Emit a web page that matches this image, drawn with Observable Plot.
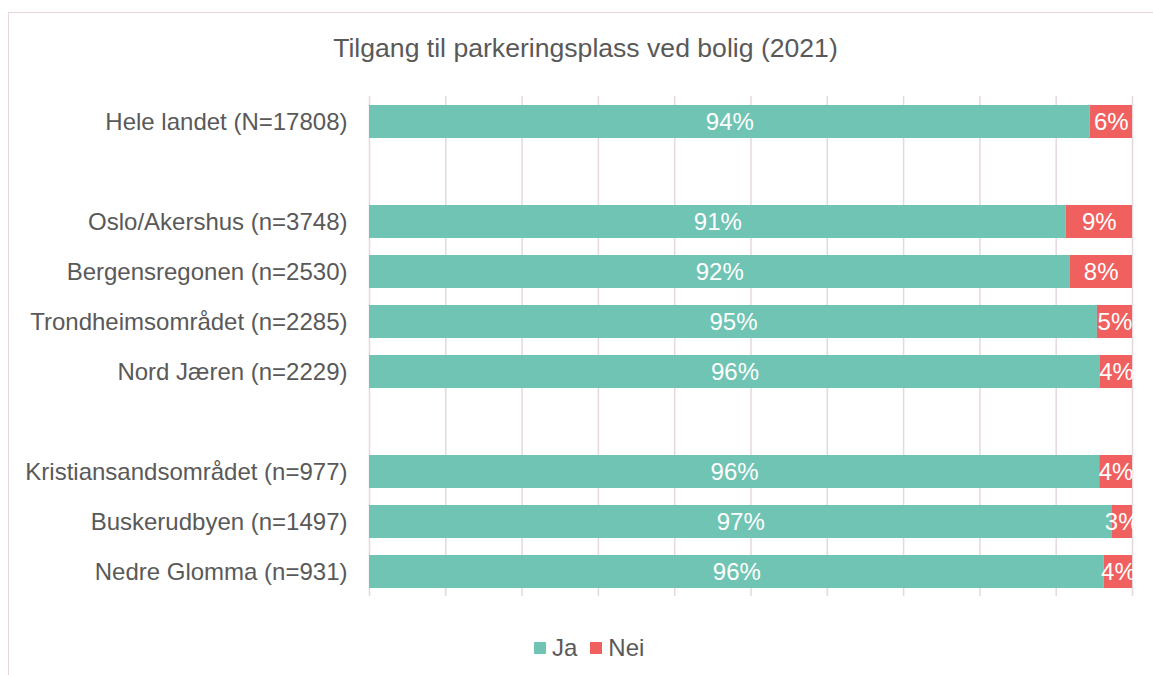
<!DOCTYPE html>
<html>
<head>
<meta charset="utf-8">
<script src="https://cdn.jsdelivr.net/npm/d3@7"></script>
<script src="https://cdn.jsdelivr.net/npm/@observablehq/plot@0.6"></script>
<style>
  html, body { margin: 0; padding: 0; background: #fff; }
  #wrap { position: relative; width: 1153px; height: 675px; overflow: hidden; font-family: "Liberation Sans", Arial, sans-serif; color: #595959; }
  #frame { position: absolute; left: 8px; top: 12px; width: 2000px; height: 2000px; border-top: 1.5px solid #e8d6db; border-left: 1.5px solid #e8d6db; }
  #title { position: absolute; left: 0; width: 1171px; top: 35px; text-align: center; font-size: 26.6px; line-height: 26px; color: #595959; }
  #chart { position: absolute; left: 0; top: 0; }
  #legend { position: absolute; top: 636px; left: 534px; font-size: 24px; line-height: 24px; display: flex; align-items: center; color: #595959; }
  .sw { display: inline-block; width: 12px; height: 12px; margin-right: 6px; }
  .item { display: flex; align-items: center; margin-right: 13px; }
</style>
</head>
<body>
<div id="wrap">
  <div id="frame"></div>
  <div id="chart"></div>
  <div id="title">Tilgang til parkeringsplass ved bolig (2021)</div>
  <div id="legend"></div>
</div>
<script>
const rows = ["Hele landet (N=17808)", " ", "Oslo/Akershus (n=3748)", "Bergensregonen (n=2530)", "Trondheimsområdet (n=2285)", "Nord Jæren (n=2229)", "  ", "Kristiansandsområdet (n=977)", "Buskerudbyen (n=1497)", "Nedre Glomma (n=931)"];
const regions = ["Hele landet (N=17808)", "Oslo/Akershus (n=3748)", "Bergensregonen (n=2530)", "Trondheimsområdet (n=2285)", "Nord Jæren (n=2229)", "Kristiansandsområdet (n=977)", "Buskerudbyen (n=1497)", "Nedre Glomma (n=931)"];
const ja  = [94.45, 91.3, 91.8, 95.4, 95.8, 95.7, 97.3, 96.3];
const nei = [5.55, 8.7, 8.2, 4.6, 4.2, 4.3, 2.7, 3.7];
const series = ["Ja", "Nei"];
const colors = ["#70c4b3", "#f0605e"];
const gridTicks = [0, 10, 20, 30, 40, 50, 60, 70, 80, 90, 100];

const data = [];
regions.forEach((r, i) => {
  data.push({region: r, answer: "Ja", value: ja[i]});
  data.push({region: r, answer: "Nei", value: nei[i]});
});

const chart = Plot.plot({
  width: 1153,
  height: 620,
  marginLeft: 369,
  marginRight: 21,
  marginTop: 96,
  marginBottom: 24,
  style: {fontFamily: "'Liberation Sans', Arial, sans-serif", fontSize: "24px", color: "#595959", background: "transparent"},
  x: {domain: [0, 100], axis: null},
  y: {domain: rows, paddingInner: 0.34, paddingOuter: 0.17, label: null, tickSize: 0, tickPadding: 22, tickFormat: d => d.trim() === "" ? "" : d},
  color: {domain: series, range: colors},
  marks: [
    Plot.ruleX(gridTicks, {stroke: "#e6d8de", strokeWidth: 1.5}),
    Plot.barX(data, Plot.stackX({x: "value", y: "region", fill: "answer", order: series})),
    Plot.text(data, Plot.stackX({x: "value", y: "region", z: "answer", order: series, text: d => Math.round(d.value) + "%", fill: "white", fontSize: 24}))
  ]
});
document.getElementById("chart").appendChild(chart);

const legend = document.getElementById("legend");
series.forEach((s, i) => {
  const it = document.createElement("div");
  it.className = "item";
  it.innerHTML = `<span class="sw" style="background:${colors[i]}"></span><span>${s}</span>`;
  legend.appendChild(it);
});
</script>
</body>
</html>
